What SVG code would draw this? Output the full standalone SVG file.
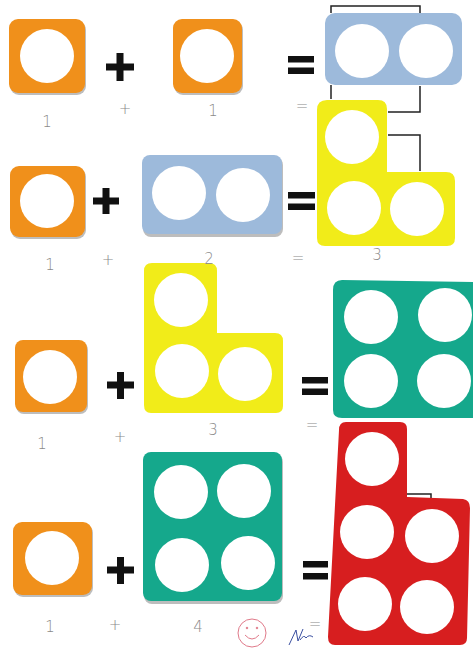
<svg xmlns="http://www.w3.org/2000/svg" width="473" height="651" viewBox="0 0 473 651">
<style>
.or{fill:#F0901B}.bl{fill:#9DBADB}.ye{fill:#F1EC19}.gr{fill:#15A88C}.rd{fill:#D71E1F}
.sh{fill:#BDBDBD}
.h{fill:#fff}
.op{fill:#111}
.ln{fill:none;stroke:#222;stroke-width:1.5}
.lb{font-family:"DejaVu Sans",sans-serif;font-size:15px;fill:#8a8a8a;font-weight:200;text-anchor:middle}
</style>
<rect width="473" height="651" fill="#fff"/>
<g id="connectors">
<path class="ln" d="M331,13 V6 H420 V13"/>
<path class="ln" d="M331,85 V99"/>
<path class="ln" d="M420,86 V112 H388"/>
<path class="ln" d="M388,135 H420 V171"/>
<path class="ln" d="M405,497 V494 H431 V499"/>
</g>
<g id="row1">
<g id="r1-a"><rect class="sh" x="10" y="21" width="76" height="74" rx="9"/><rect class="or" x="9" y="19" width="76" height="74" rx="9"/><circle class="h" cx="47" cy="56" r="27"/></g>
<g id="r1-plus"><rect class="op" x="106" y="63.5" width="28" height="7"/><rect class="op" x="116.5" y="53" width="7" height="28"/></g>
<g id="r1-b"><rect class="sh" x="174" y="21" width="69" height="74" rx="9"/><rect class="or" x="173" y="19" width="69" height="74" rx="9"/><circle class="h" cx="207" cy="56" r="27"/></g>
<g id="r1-eq"><rect class="op" x="288" y="56" width="26" height="6.5"/><rect class="op" x="288" y="67.5" width="26" height="6.5"/></g>
<g id="r1-c"><rect class="bl" x="325" y="13" width="137" height="72" rx="10"/><circle class="h" cx="362" cy="51" r="27"/><circle class="h" cx="426" cy="51" r="27"/></g>
</g>
<g id="row2">
<g id="r2-a"><rect class="sh" x="11" y="168" width="75" height="71" rx="9"/><rect class="or" x="10" y="166" width="75" height="71" rx="9"/><circle class="h" cx="47" cy="201" r="27"/></g>
<g id="r2-plus"><rect class="op" x="93" y="197.5" width="26" height="7"/><rect class="op" x="102.5" y="188" width="7" height="26"/></g>
<g id="r2-b"><rect class="sh" x="143" y="157" width="140" height="80" rx="8"/><rect class="bl" x="142" y="155" width="140" height="79" rx="8"/><circle class="h" cx="179" cy="193" r="27"/><circle class="h" cx="243" cy="195" r="27"/></g>
<g id="r2-eq"><rect class="op" x="288" y="192" width="27" height="6.5"/><rect class="op" x="288" y="203.5" width="27" height="6.5"/></g>
<g id="r2-c"><path class="ye" d="M327,100 H378 Q387,100 387,109 V172 H446 Q455,172 455,181 V238 Q455,246 447,246 H325 Q317,246 317,238 V110 Q317,100 327,100 Z"/><circle class="h" cx="352" cy="137" r="27"/><circle class="h" cx="354" cy="208" r="27"/><circle class="h" cx="417" cy="209" r="27"/></g>
</g>
<g id="row3">
<g id="r3-a"><rect class="sh" x="16" y="342" width="72" height="72" rx="8"/><rect class="or" x="15" y="340" width="72" height="72" rx="8"/><circle class="h" cx="50" cy="377" r="27"/></g>
<g id="r3-plus"><rect class="op" x="107" y="381.5" width="27" height="7"/><rect class="op" x="117" y="372" width="7" height="27"/></g>
<g id="r3-b"><path class="ye" d="M152,263 H209 Q217,263 217,271 V333 H275 Q283,333 283,341 V406 Q283,413 276,413 H151 Q144,413 144,405 V271 Q144,263 152,263 Z"/><circle class="h" cx="181" cy="300" r="27"/><circle class="h" cx="182" cy="371" r="27"/><circle class="h" cx="245" cy="374" r="27"/></g>
<g id="r3-eq"><rect class="op" x="302" y="377" width="26" height="6.5"/><rect class="op" x="302" y="388.5" width="26" height="6.5"/></g>
<g id="r3-c"><path class="gr" d="M342,280 L473,282 V418 L342,418 Q333,418 333,410 V290 Q333,280 342,280 Z"/><circle class="h" cx="371" cy="317" r="27"/><circle class="h" cx="445" cy="315" r="27"/><circle class="h" cx="371" cy="381" r="27"/><circle class="h" cx="444" cy="381" r="27"/></g>
</g>
<g id="row4">
<g id="r4-a"><rect class="sh" x="14" y="524" width="79" height="73" rx="9"/><rect class="or" x="13" y="522" width="79" height="73" rx="9"/><circle class="h" cx="52" cy="558" r="27"/></g>
<g id="r4-plus"><rect class="op" x="107" y="566.5" width="27" height="7"/><rect class="op" x="117" y="557" width="7" height="27"/></g>
<g id="r4-b"><rect class="sh" x="144" y="454" width="139" height="150" rx="8"/><rect class="gr" x="143" y="452" width="139" height="149" rx="8"/><circle class="h" cx="181" cy="492" r="27"/><circle class="h" cx="244" cy="491" r="27"/><circle class="h" cx="182" cy="565" r="27"/><circle class="h" cx="248" cy="563" r="27"/></g>
<g id="r4-eq"><rect class="op" x="303" y="561" width="25" height="6.5"/><rect class="op" x="303" y="573" width="25" height="6.5"/></g>
<g id="r4-c"><path class="rd" d="M346,422 H400 Q407,422 407,429 V497 L463,499 Q470,500 470,508 L467,638 Q467,645 460,645 H335 Q328,645 328,637 L339,430 Q339,422 346,422 Z"/><circle class="h" cx="372" cy="459" r="27"/><circle class="h" cx="367" cy="532" r="27"/><circle class="h" cx="432" cy="536" r="27"/><circle class="h" cx="365" cy="604" r="27"/><circle class="h" cx="427" cy="607" r="27"/></g>
</g>
<g id="labels">
<text class="lb" x="47" y="127">1</text><text class="lb" x="125" y="114">+</text><text class="lb" x="213" y="116">1</text><text class="lb" x="302" y="111">=</text>
<text class="lb" x="50" y="270">1</text><text class="lb" x="108" y="265">+</text><text class="lb" x="209" y="264">2</text><text class="lb" x="298" y="263">=</text><text class="lb" x="377" y="260">3</text>
<text class="lb" x="42" y="449">1</text><text class="lb" x="120" y="442">+</text><text class="lb" x="213" y="435">3</text><text class="lb" x="312" y="430">=</text>
<text class="lb" x="50" y="632">1</text><text class="lb" x="115" y="630">+</text><text class="lb" x="198" y="632">4</text><text class="lb" x="315" y="629">=</text>
</g>
<g id="smiley" fill="none" stroke="#E07A8A" stroke-width="1">
<circle cx="252" cy="633" r="14"/>
<circle cx="247" cy="628" r="0.8" fill="#E07A8A"/><circle cx="257" cy="628" r="0.8" fill="#E07A8A"/>
<path d="M245,635 Q252,643 259,635"/>
</g>
<g id="signature" fill="none" stroke="#3A4FA0" stroke-width="1">
<path d="M289,645 L296,630 L298,641 L303,629 M300,640 Q304,634 306,638 Q309,634 313,637"/>
</g>
</svg>
